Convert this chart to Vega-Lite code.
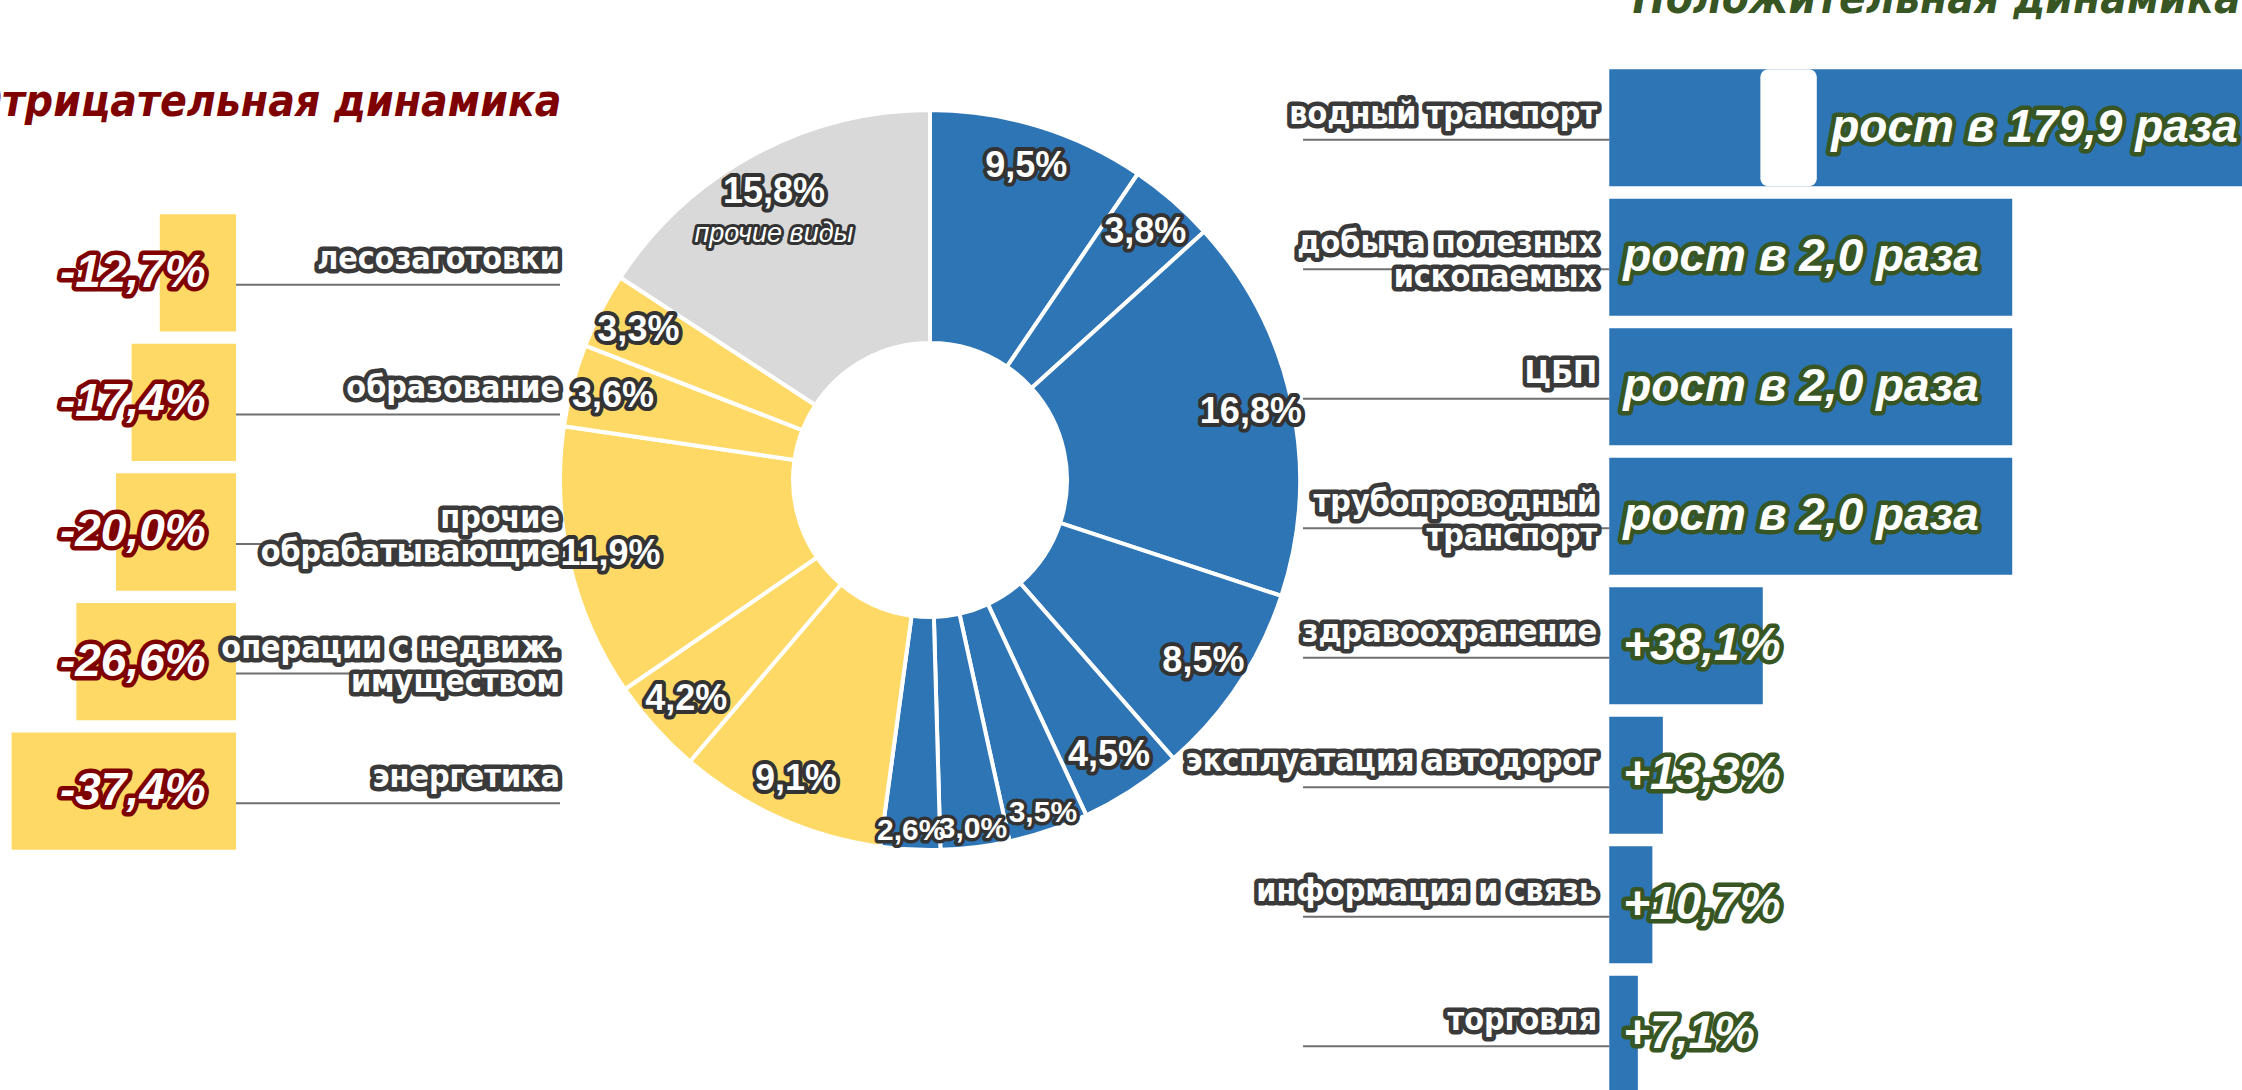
{
  "$schema": "https://vega.github.io/schema/vega-lite/v6.json",
  "width": 1860,
  "height": 960,
  "autosize": {"type": "none"},
  "padding": {"left": 0, "top": 0, "right": 382, "bottom": 130},
  "background": "white",
  "config": {
    "view": {"stroke": null},
    "text": {"lineBreak": "\n"},
    "axis": {"grid": false, "domain": false, "ticks": false, "labels": false}
  },
  "data": {
    "values": [
      {"cat": "водный транспорт", "share": 9.5, "grp": "pos", "ord": 1, "pct": 17890, "lbl": "9,5%", "bl": "рост в 179,9 раза", "sub": ""},
      {"cat": "добыча полезных\nископаемых", "share": 3.8, "grp": "pos", "ord": 2, "pct": 100, "lbl": "3,8%", "bl": "рост в 2,0 раза", "sub": ""},
      {"cat": "ЦБП", "share": 16.8, "grp": "pos", "ord": 3, "pct": 100, "lbl": "16,8%", "bl": "рост в 2,0 раза", "sub": ""},
      {"cat": "трубопроводный\nтранспорт", "share": 8.5, "grp": "pos", "ord": 4, "pct": 100, "lbl": "8,5%", "bl": "рост в 2,0 раза", "sub": ""},
      {"cat": "здравоохранение", "share": 4.5, "grp": "pos", "ord": 5, "pct": 38.1, "lbl": "4,5%", "bl": "+38,1%", "sub": ""},
      {"cat": "эксплуатация автодорог", "share": 3.5, "grp": "pos", "ord": 6, "pct": 13.3, "lbl": "3,5%", "bl": "+13,3%", "sub": ""},
      {"cat": "информация и связь", "share": 3.0, "grp": "pos", "ord": 7, "pct": 10.7, "lbl": "3,0%", "bl": "+10,7%", "sub": ""},
      {"cat": "торговля", "share": 2.6, "grp": "pos", "ord": 8, "pct": 7.1, "lbl": "2,6%", "bl": "+7,1%", "sub": ""},
      {"cat": "энергетика", "share": 9.1, "grp": "neg", "ord": 9, "pct": -37.4, "lbl": "9,1%", "bl": "-37,4%", "sub": ""},
      {"cat": "операции с недвиж.\nимуществом", "share": 4.2, "grp": "neg", "ord": 10, "pct": -26.6, "lbl": "4,2%", "bl": "-26,6%", "sub": ""},
      {"cat": "прочие\nобрабатывающие", "share": 11.9, "grp": "neg", "ord": 11, "pct": -20.0, "lbl": "11,9%", "bl": "-20,0%", "sub": ""},
      {"cat": "образование", "share": 3.6, "grp": "neg", "ord": 12, "pct": -17.4, "lbl": "3,6%", "bl": "-17,4%", "sub": ""},
      {"cat": "лесозаготовки", "share": 3.3, "grp": "neg", "ord": 13, "pct": -12.7, "lbl": "3,3%", "bl": "-12,7%", "sub": ""},
      {"cat": "прочие виды", "share": 15.8, "grp": "oth", "ord": 14, "pct": null, "lbl": "15,8%", "bl": "", "sub": "прочие виды"}
    ]
  },
  "resolve": {"scale": {"x": "independent", "y": "independent"}},
  "layer": [
    {
      "encoding": {
        "theta": {"field": "share", "type": "quantitative", "stack": true},
        "order": {"field": "ord", "type": "quantitative"}
      },
      "layer": [
        {
          "mark": {"type": "arc", "outerRadius": 370, "innerRadius": 137, "stroke": "white", "strokeWidth": 4},
          "encoding": {
            "color": {"field": "grp", "type": "nominal", "scale": {"domain": ["pos", "neg", "oth"], "range": ["#2E75B6", "#FFD966", "#D9D9D9"]}, "legend": null}
          }
        },
        {
          "mark": {"type": "text", "radius": 328, "font": "Liberation Sans", "fontSize": 36, "fontWeight": "bold", "fill": "#333333", "stroke": "#333333", "strokeWidth": 8, "strokeJoin": "round"},
          "encoding": {"text": {"condition": {"test": "datum.grp == 'pos' && datum.share < 3.6", "value": ""}, "field": "lbl"}}
        },
        {
          "mark": {"type": "text", "radius": 328, "font": "Liberation Sans", "fontSize": 36, "fontWeight": "bold", "fill": "white"},
          "encoding": {"text": {"condition": {"test": "datum.grp == 'pos' && datum.share < 3.6", "value": ""}, "field": "lbl"}}
        },
        {
          "mark": {"type": "text", "radius": 352, "font": "Liberation Sans", "fontSize": 30, "fontWeight": "bold", "fill": "#333333", "stroke": "#333333", "strokeWidth": 7, "strokeJoin": "round"},
          "encoding": {"text": {"condition": {"test": "datum.grp == 'pos' && datum.share < 3.6", "field": "lbl"}, "value": ""}}
        },
        {
          "mark": {"type": "text", "radius": 352, "font": "Liberation Sans", "fontSize": 30, "fontWeight": "bold", "fill": "white"},
          "encoding": {"text": {"condition": {"test": "datum.grp == 'pos' && datum.share < 3.6", "field": "lbl"}, "value": ""}}
        },
        {
          "mark": {"type": "text", "radius": 328, "dy": 42, "font": "Liberation Sans", "fontSize": 27, "fontStyle": "italic", "fill": "#333333", "stroke": "#333333", "strokeWidth": 6, "strokeJoin": "round"},
          "encoding": {"text": {"field": "sub"}}
        },
        {
          "mark": {"type": "text", "radius": 328, "dy": 42, "font": "Liberation Sans", "fontSize": 27, "fontStyle": "italic", "fill": "white"},
          "encoding": {"text": {"field": "sub"}}
        }
      ]
    },
    {
      "transform": [{"filter": "datum.grp == 'neg'"}],
      "encoding": {
        "y": {
          "field": "cat", "type": "nominal",
          "scale": {"domain": ["лесозаготовки", "образование", "прочие\nобрабатывающие", "операции с недвиж.\nимуществом", "энергетика"], "range": [208, 856], "paddingInner": 0.095, "paddingOuter": 0.0475},
          "axis": {"orient": "left", "title": "Отрицательная динамика", "titleX": 561, "titleY": 115, "titleAlign": "right", "titleBaseline": "alphabetic", "titleAngle": 0, "titleFont": "DejaVu Sans Condensed, Liberation Sans", "titleFontSize": 44, "titleFontStyle": "italic", "titleFontWeight": "bold", "titleColor": "#7F0000"}
        }
      },
      "layer": [
        {
          "mark": {"type": "bar", "color": "#FFD966"},
          "encoding": {
            "x": {"field": "pct", "type": "quantitative", "scale": {"domain": [-39.33, 0], "range": [0, 236], "nice": false, "zero": false}, "axis": null},
            "x2": {"datum": 0}
          }
        },
        {
          "mark": {"type": "rule", "color": "#707070", "strokeWidth": 2, "yOffset": 12},
          "encoding": {"x": {"datum": 0}, "x2": {"datum": 54}}
        },
        {
          "mark": {"type": "text", "align": "right", "baseline": "bottom", "yOffset": 3, "font": "DejaVu Sans Condensed, Liberation Sans", "fontSize": 32, "fontWeight": "bold", "fill": "#3A3A3A", "stroke": "#3A3A3A", "strokeWidth": 9, "strokeJoin": "round"},
          "encoding": {"x": {"datum": 54}, "text": {"field": "cat"}}
        },
        {
          "mark": {"type": "text", "align": "right", "baseline": "bottom", "yOffset": 3, "font": "DejaVu Sans Condensed, Liberation Sans", "fontSize": 32, "fontWeight": "bold", "fill": "white"},
          "encoding": {"x": {"datum": 54}, "text": {"field": "cat"}}
        },
        {
          "mark": {"type": "text", "align": "center", "baseline": "middle", "font": "Liberation Sans", "fontSize": 46, "fontWeight": "bold", "fontStyle": "italic", "fill": "#7F0000", "stroke": "#7F0000", "strokeWidth": 9, "strokeJoin": "round"},
          "encoding": {"x": {"datum": -17.2}, "text": {"field": "bl"}}
        },
        {
          "mark": {"type": "text", "align": "center", "baseline": "middle", "font": "Liberation Sans", "fontSize": 46, "fontWeight": "bold", "fontStyle": "italic", "fill": "white"},
          "encoding": {"x": {"datum": -17.2}, "text": {"field": "bl"}}
        }
      ]
    },
    {
      "transform": [{"filter": "datum.grp == 'pos'"}],
      "encoding": {
        "y": {
          "field": "cat", "type": "nominal",
          "scale": {"domain": ["водный транспорт", "добыча полезных\nископаемых", "ЦБП", "трубопроводный\nтранспорт", "здравоохранение", "эксплуатация автодорог", "информация и связь", "торговля"], "range": [63, 1099], "paddingInner": 0.095, "paddingOuter": 0.0475},
          "axis": {"orient": "left", "title": "Положительная динамика", "titleX": 1632, "titleY": 12, "titleAlign": "left", "titleBaseline": "alphabetic", "titleAngle": 0, "titleFont": "DejaVu Sans Condensed, Liberation Sans", "titleFontSize": 44, "titleFontStyle": "italic", "titleFontWeight": "bold", "titleColor": "#375623"}
        }
      },
      "layer": [
        {
          "mark": {"type": "bar", "color": "#2E75B6"},
          "encoding": {
            "x": {"field": "pct", "type": "quantitative", "scale": {"domain": [-76, 160], "range": [1303, 2254], "clamp": true, "nice": false, "zero": false}, "axis": null},
            "x2": {"datum": 0}
          }
        },
        {
          "transform": [{"filter": "datum.ord == 1"}],
          "mark": {"type": "rect", "color": "white", "cornerRadius": 8},
          "encoding": {"x": {"datum": 37.5}, "x2": {"datum": 51.5}}
        },
        {
          "mark": {"type": "rule", "color": "#707070", "strokeWidth": 2, "yOffset": 12},
          "encoding": {"x": {"datum": 0}, "x2": {"datum": -76}}
        },
        {
          "mark": {"type": "text", "align": "right", "baseline": "bottom", "yOffset": 3, "font": "DejaVu Sans Condensed, Liberation Sans", "fontSize": 32, "fontWeight": "bold", "fill": "#3A3A3A", "stroke": "#3A3A3A", "strokeWidth": 9, "strokeJoin": "round"},
          "encoding": {"x": {"datum": -3}, "text": {"field": "cat"}}
        },
        {
          "mark": {"type": "text", "align": "right", "baseline": "bottom", "yOffset": 3, "font": "DejaVu Sans Condensed, Liberation Sans", "fontSize": 32, "fontWeight": "bold", "fill": "white"},
          "encoding": {"x": {"datum": -3}, "text": {"field": "cat"}}
        },
        {
          "transform": [{"filter": "datum.ord > 1"}],
          "mark": {"type": "text", "align": "left", "baseline": "middle", "dx": 14, "font": "Liberation Sans", "fontSize": 46, "fontWeight": "bold", "fontStyle": "italic", "fill": "#375623", "stroke": "#375623", "strokeWidth": 9, "strokeJoin": "round"},
          "encoding": {"x": {"datum": 0}, "text": {"field": "bl"}}
        },
        {
          "transform": [{"filter": "datum.ord > 1"}],
          "mark": {"type": "text", "align": "left", "baseline": "middle", "dx": 14, "font": "Liberation Sans", "fontSize": 46, "fontWeight": "bold", "fontStyle": "italic", "fill": "white"},
          "encoding": {"x": {"datum": 0}, "text": {"field": "bl"}}
        },
        {
          "transform": [{"filter": "datum.ord == 1"}],
          "mark": {"type": "text", "align": "right", "baseline": "middle", "font": "Liberation Sans", "fontSize": 46, "fontWeight": "bold", "fontStyle": "italic", "fill": "#375623", "stroke": "#375623", "strokeWidth": 9, "strokeJoin": "round"},
          "encoding": {"x": {"datum": 156}, "text": {"field": "bl"}}
        },
        {
          "transform": [{"filter": "datum.ord == 1"}],
          "mark": {"type": "text", "align": "right", "baseline": "middle", "font": "Liberation Sans", "fontSize": 46, "fontWeight": "bold", "fontStyle": "italic", "fill": "white"},
          "encoding": {"x": {"datum": 156}, "text": {"field": "bl"}}
        }
      ]
    }
  ]
}
